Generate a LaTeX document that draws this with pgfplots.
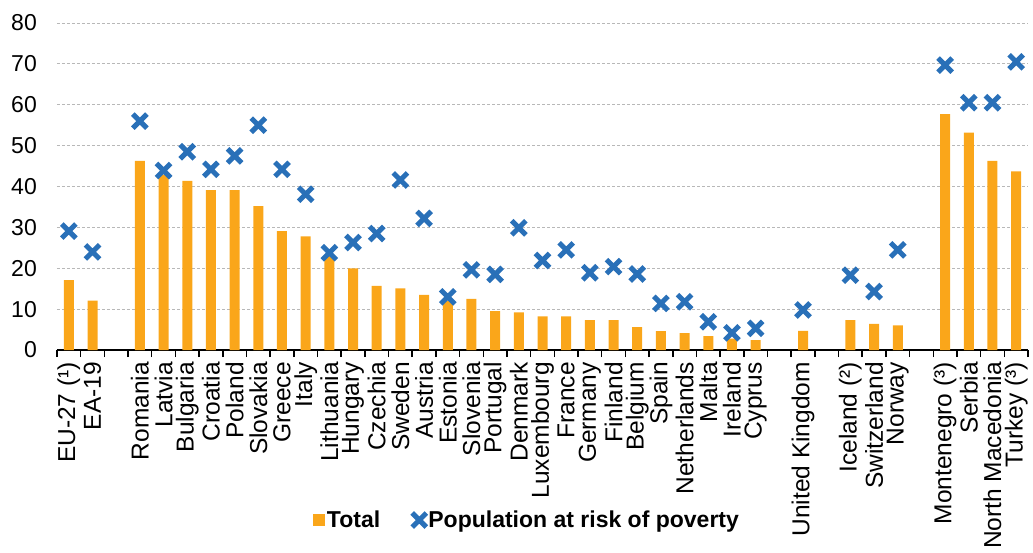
\documentclass[border=0pt]{standalone}
\usepackage{fontspec}
\setmainfont{Liberation Sans}
\usepackage{pgfplots}
\usepackage{pgfplotstable}
\pgfplotsset{compat=1.18}

\definecolor{barorange}{RGB}{250,166,26}
\definecolor{markblue}{RGB}{41,112,184}

% x = slot index (gaps at 2, 30, 32, 36)
\pgfplotstableread{
x total poverty
0 17.1 29.1
1 12.1 24.0
3 46.3 56.0
4 42.9 43.9
5 41.4 48.5
6 39.1 44.2
7 39.1 47.5
8 35.2 55.0
9 29.1 44.2
10 27.8 38.1
11 23.0 23.8
12 20.0 26.3
13 15.7 28.5
14 15.1 41.6
15 13.5 32.2
16 12.0 13.0
17 12.5 19.6
18 9.5 18.5
19 9.2 29.9
20 8.2 21.9
21 8.2 24.5
22 7.3 18.9
23 7.3 20.4
24 5.6 18.6
25 4.6 11.4
26 4.1 11.8
27 3.4 6.9
28 2.8 4.2
29 2.4 5.3
31 4.7 9.8
33 7.3 18.3
34 6.4 14.3
35 6.0 24.5
37 57.7 69.7
38 53.2 60.5
39 46.3 60.5
40 43.7 70.5
}\data

\begin{document}
\begin{tikzpicture}
\useasboundingbox (-57pt,-202pt) rectangle (976pt,350pt);
\begin{axis}[
  scale only axis,
  width=971pt, height=327pt,
  xmin=-0.5, xmax=40.5,
  ymin=0, ymax=80,
  clip=false,
  axis x line*=bottom,
  axis y line*=left,
  y axis line style={draw=none},
  x axis line style={black, line width=1.5pt},
  ytick={0,10,...,80},
  ymajorgrids,
  grid style={densely dashed, black!28, line width=0.8pt},
  xtick={0,...,40},
  xticklabels={EU-27 (¹),EA-19,,Romania,Latvia,Bulgaria,Croatia,Poland,Slovakia,Greece,Italy,Lithuania,Hungary,Czechia,Sweden,Austria,Estonia,Slovenia,Portugal,Denmark,Luxembourg,France,Germany,Finland,Belgium,Spain,Netherlands,Malta,Ireland,Cyprus,,United Kingdom,,Iceland (²),Switzerland,Norway,,Montenegro (³),Serbia,North Macedonia,Turkey (³)},
  minor xtick={-0.5,0.5,...,40.5},
  tick align=outside,
  major tick length=0pt,
  minor tick length=7pt,
  minor tick style={black, line width=1.5pt},
  xticklabel style={yshift=-12pt, rotate=90, anchor=east, inner sep=0pt,
    font=\fontsize{24.5}{26}\selectfont},
  yticklabel style={anchor=east, inner sep=0pt, xshift=-20pt,
    font=\fontsize{23}{26}\selectfont},
  /pgf/number format/assume math mode=true,
  legend style={at={(0.484,-0.52)}, anchor=center, draw=none, fill=none,
    legend columns=2, font=\bfseries\fontsize{23}{26}\selectfont,
    /tikz/every even column/.append style={column sep=30pt}},
]
\addplot[ybar, bar width=10pt, fill=barorange, draw=none,
  legend image code/.code={\fill[barorange] (-4pt,-6pt) rectangle (8pt,6pt);}]
  table[x=x, y=total] {\data};
\addlegendentry{Total}
\addplot[only marks, mark=x, mark size=10pt, line width=5pt, color=markblue]
  table[x=x, y=poverty] {\data};
\addlegendentry{Population at risk of poverty}
\end{axis}
\end{tikzpicture}
\end{document}
